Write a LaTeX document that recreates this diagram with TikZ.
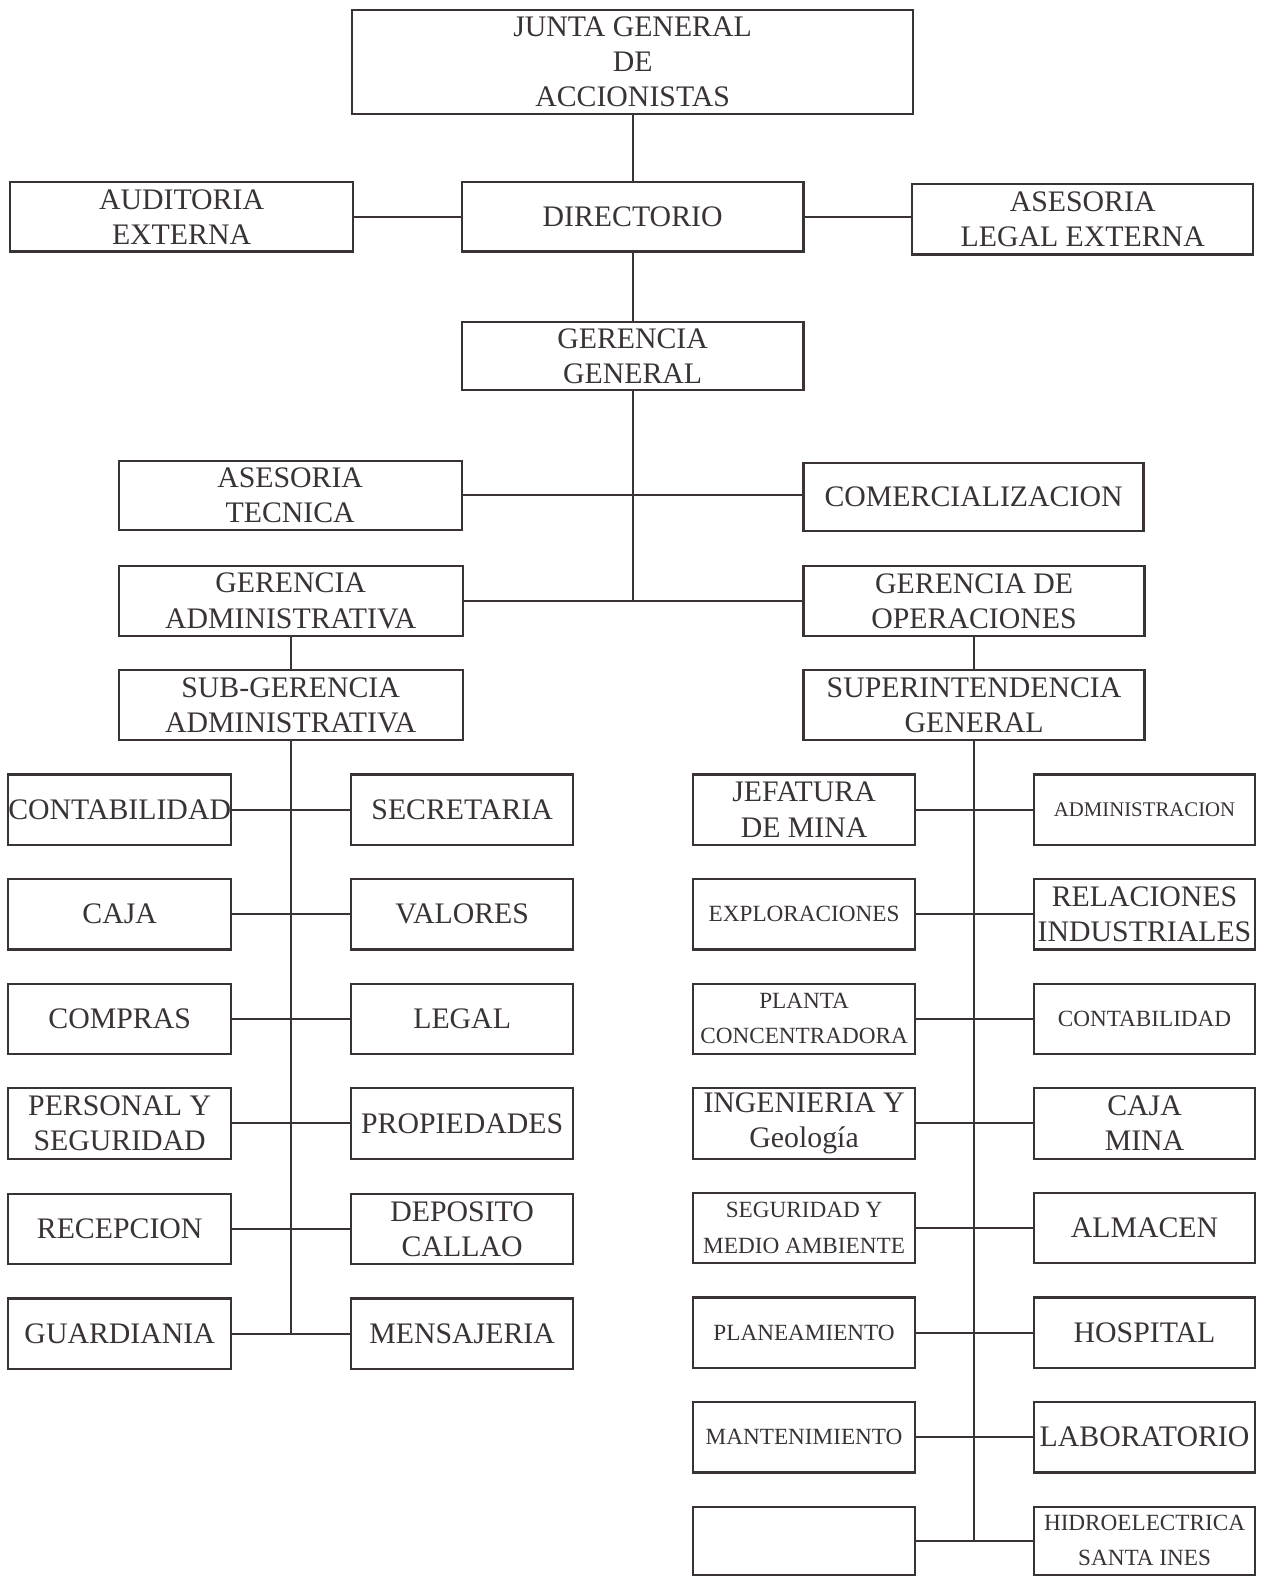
\documentclass[tikz,border=0pt]{standalone}
\usepackage{fontspec}
\setmainfont{Liberation Serif}
\definecolor{ink}{HTML}{3A3335}
\newcommand\bigtxt{\fontsize{14.9}{17.6}\selectfont}
\newcommand\smalltxt{\fontsize{11.6}{17.6}\selectfont}
\newcommand\tinytxt{\fontsize{10.4}{17.6}\selectfont}
\newcommand\bx[7][\bigtxt]{%
  \pgfmathsetmacro\bxw{(#5-#3)*0.5028}%
  \pgfmathsetmacro\bxh{(#6-#4)*0.5028}%
  \node[orgbox, font=#1, minimum width=\bxw pt, minimum height=\bxh pt] (#2) at ({(#3+#5)/2},{(#4+#6)/2}) {#7};}
\begin{document}
\begin{tikzpicture}[x=0.5028pt, y=-0.5028pt,
  orgbox/.style={draw=ink, line width=1.1pt, text=ink, inner sep=0pt, align=center},
  link/.style={draw=ink, line width=1pt}]
\useasboundingbox[fill=white] (0,0) rectangle (1254,1568);
% top
\bx{jgda}{350}{10}{908}{113}{JUNTA GENERAL\\DE\\ACCIONISTAS}
\bx{aud}{10}{181}{351}{250}{AUDITORIA\\EXTERNA}
\bx{dir}{459}{181}{799}{250}{DIRECTORIO}
\bx{ale}{907}{183}{1246}{253}{ASESORIA\\LEGAL EXTERNA}
\bx{gg}{459}{320}{799}{388}{GERENCIA\\GENERAL}
\bx{at}{118}{458}{459}{527}{ASESORIA\\TECNICA}
\bx{com}{799}{460}{1137}{528}{COMERCIALIZACION}
\bx{ga}{118}{563}{460}{632}{GERENCIA\\ADMINISTRATIVA}
\bx{go}{799}{563}{1138}{632}{GERENCIA DE\\OPERACIONES}
\bx{sga}{118}{666}{460}{736}{SUB-GERENCIA\\ADMINISTRATIVA}
\bx{sig}{799}{666}{1138}{736}{SUPERINTENDENCIA\\GENERAL}
% left block
\bx{la1}{8}{770}{230}{840}{CONTABILIDAD}
\bx{lb1}{349}{770}{570}{840}{SECRETARIA}
\bx{la2}{8}{874}{230}{944}{CAJA}
\bx{lb2}{349}{874}{570}{944}{VALORES}
\bx{la3}{8}{978}{230}{1048}{COMPRAS}
\bx{lb3}{349}{978}{570}{1048}{LEGAL}
\bx{la4}{8}{1082}{230}{1152}{PERSONAL Y\\SEGURIDAD}
\bx{lb4}{349}{1082}{570}{1152}{PROPIEDADES}
\bx{la5}{8}{1187}{230}{1257}{RECEPCION}
\bx{lb5}{349}{1187}{570}{1257}{DEPOSITO\\CALLAO}
\bx{la6}{8}{1291}{230}{1361}{GUARDIANIA}
\bx{lb6}{349}{1291}{570}{1361}{MENSAJERIA}
% right block
\bx{ra1}{689}{770}{910}{840}{JEFATURA\\DE MINA}
\bx[\tinytxt]{rb1}{1028}{770}{1248}{840}{ADMINISTRACION}
\bx[\smalltxt]{ra2}{689}{874}{910}{944}{EXPLORACIONES}
\bx{rb2}{1028}{874}{1248}{944}{RELACIONES\\INDUSTRIALES}
\bx[\smalltxt]{ra3}{689}{978}{910}{1048}{PLANTA\\CONCENTRADORA}
\bx[\smalltxt]{rb3}{1028}{978}{1248}{1048}{CONTABILIDAD}
\bx{ra4}{689}{1082}{910}{1152}{INGENIERIA Y\\Geología}
\bx{rb4}{1028}{1082}{1248}{1152}{CAJA\\MINA}
\bx[\smalltxt]{ra5}{689}{1186}{910}{1256}{SEGURIDAD Y\\MEDIO AMBIENTE}
\bx{rb5}{1028}{1186}{1248}{1256}{ALMACEN}
\bx[\smalltxt]{ra6}{689}{1290}{910}{1360}{PLANEAMIENTO}
\bx{rb6}{1028}{1290}{1248}{1360}{HOSPITAL}
\bx[\smalltxt]{ra7}{689}{1394}{910}{1464}{MANTENIMIENTO}
\bx{rb7}{1028}{1394}{1248}{1464}{LABORATORIO}
\bx{ra8}{689}{1498}{910}{1566}{}
\bx[\smalltxt]{rb8}{1028}{1498}{1248}{1566}{HIDROELECTRICA\\SANTA INES}
% connectors
\draw[link] (dir.north |- jgda.south) -- (dir.north);
\draw[link] (aud.east) -- (dir.west);
\draw[link] (dir.east) -- (ale.west |- dir.east);
\draw[link] (dir.south) -- (gg.north);
\coordinate (j1) at (gg.south |- ga.east);
\draw[link] (gg.south) -- (j1);
\draw[link] (at.east) -- (com.west |- at.east);
\draw[link] (ga.east) -- (go.west);
\draw[link] (ga.south) -- (sga.north);
\draw[link] (go.south) -- (sig.north);
\coordinate (j2) at (sga.south |- la6.east);
\draw[link] (sga.south) -- (j2);
\foreach \i in {1,...,6} {\draw[link] (la\i.east) -- (lb\i.west);}
\coordinate (j3) at (sig.south |- ra8.east);
\draw[link] (sig.south) -- (j3);
\foreach \i in {1,...,8} {\draw[link] (ra\i.east) -- (rb\i.west);}
\end{tikzpicture}
\end{document}
